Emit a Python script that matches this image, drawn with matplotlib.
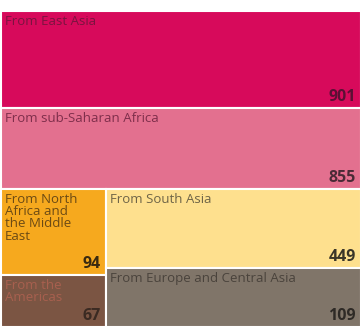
import matplotlib
matplotlib.use("Agg")
import matplotlib.pyplot as plt
from matplotlib.patches import Rectangle

# Data
labels = ["From East Asia", "From sub-Saharan Africa",
          "From North\nAfrica and\nthe Middle\nEast", "From the\nAmericas",
          "From South Asia", "From Europe and Central Asia"]
values = [901, 855, 94, 67, 449, 109]
# area weights (share of treemap area)
areas = [30.7, 25.6, 7.9, 4.8, 17.7, 13.2]
colors = ["#D70A5B", "#E3708F", "#F6A91E", "#7B5543", "#FEE08E", "#807569"]
label_colors = ["#7A1440", "#7E2E4B", "#6B4A14", "#A8604F", "#6E6447", "#4A433C"]
num_colors = ["#5A1034", "#4A2A36", "#3A2A10", "#3A2A22", "#3A3528", "#2E2A26"]

# layout structure: two full-width rows, then two columns of two cells
rows = [[0], [1]]
columns = [[2, 3], [4, 5]]

fig = plt.figure(figsize=(3.64, 3.29), dpi=100)
ax = fig.add_axes([1/364, 2/329, 360/364, 316/329])
ax.set_xlim(0, 1)
ax.set_ylim(1, 0)
ax.axis("off")

total = sum(areas)
rects = {}
y = 0.0
for r in rows:
    h = sum(areas[i] for i in r) / total
    x = 0.0
    for i in r:
        w = areas[i] / sum(areas[j] for j in r)
        rects[i] = (x, y, w, h)
        x += w
    y += h
bottom_total = sum(areas[i] for c in columns for i in c)
bh = 1 - y
x = 0.0
for c in columns:
    w = sum(areas[i] for i in c) / bottom_total
    yy = y
    for i in c:
        h = bh * areas[i] / sum(areas[j] for j in c)
        rects[i] = (x, yy, w, h)
        yy += h
    x += w

for i, (x, y0, w, h) in rects.items():
    ax.add_patch(Rectangle((x, y0), w, h, facecolor=colors[i], edgecolor="white", linewidth=1.5))
    ax.annotate(labels[i], xy=(x, y0), xytext=(4, -4), textcoords="offset pixels",
                ha="left", va="top", fontsize=9.5, family="Open Sans",
                color=label_colors[i], linespacing=0.92)
    ax.annotate(str(values[i]), xy=(x + w, y0 + h), xytext=(-5, 3), textcoords="offset pixels",
                ha="right", va="bottom", fontsize=11.5, family="Open Sans", fontweight="bold",
                color=num_colors[i])

fig.savefig("out.png", dpi=100, facecolor="white")
